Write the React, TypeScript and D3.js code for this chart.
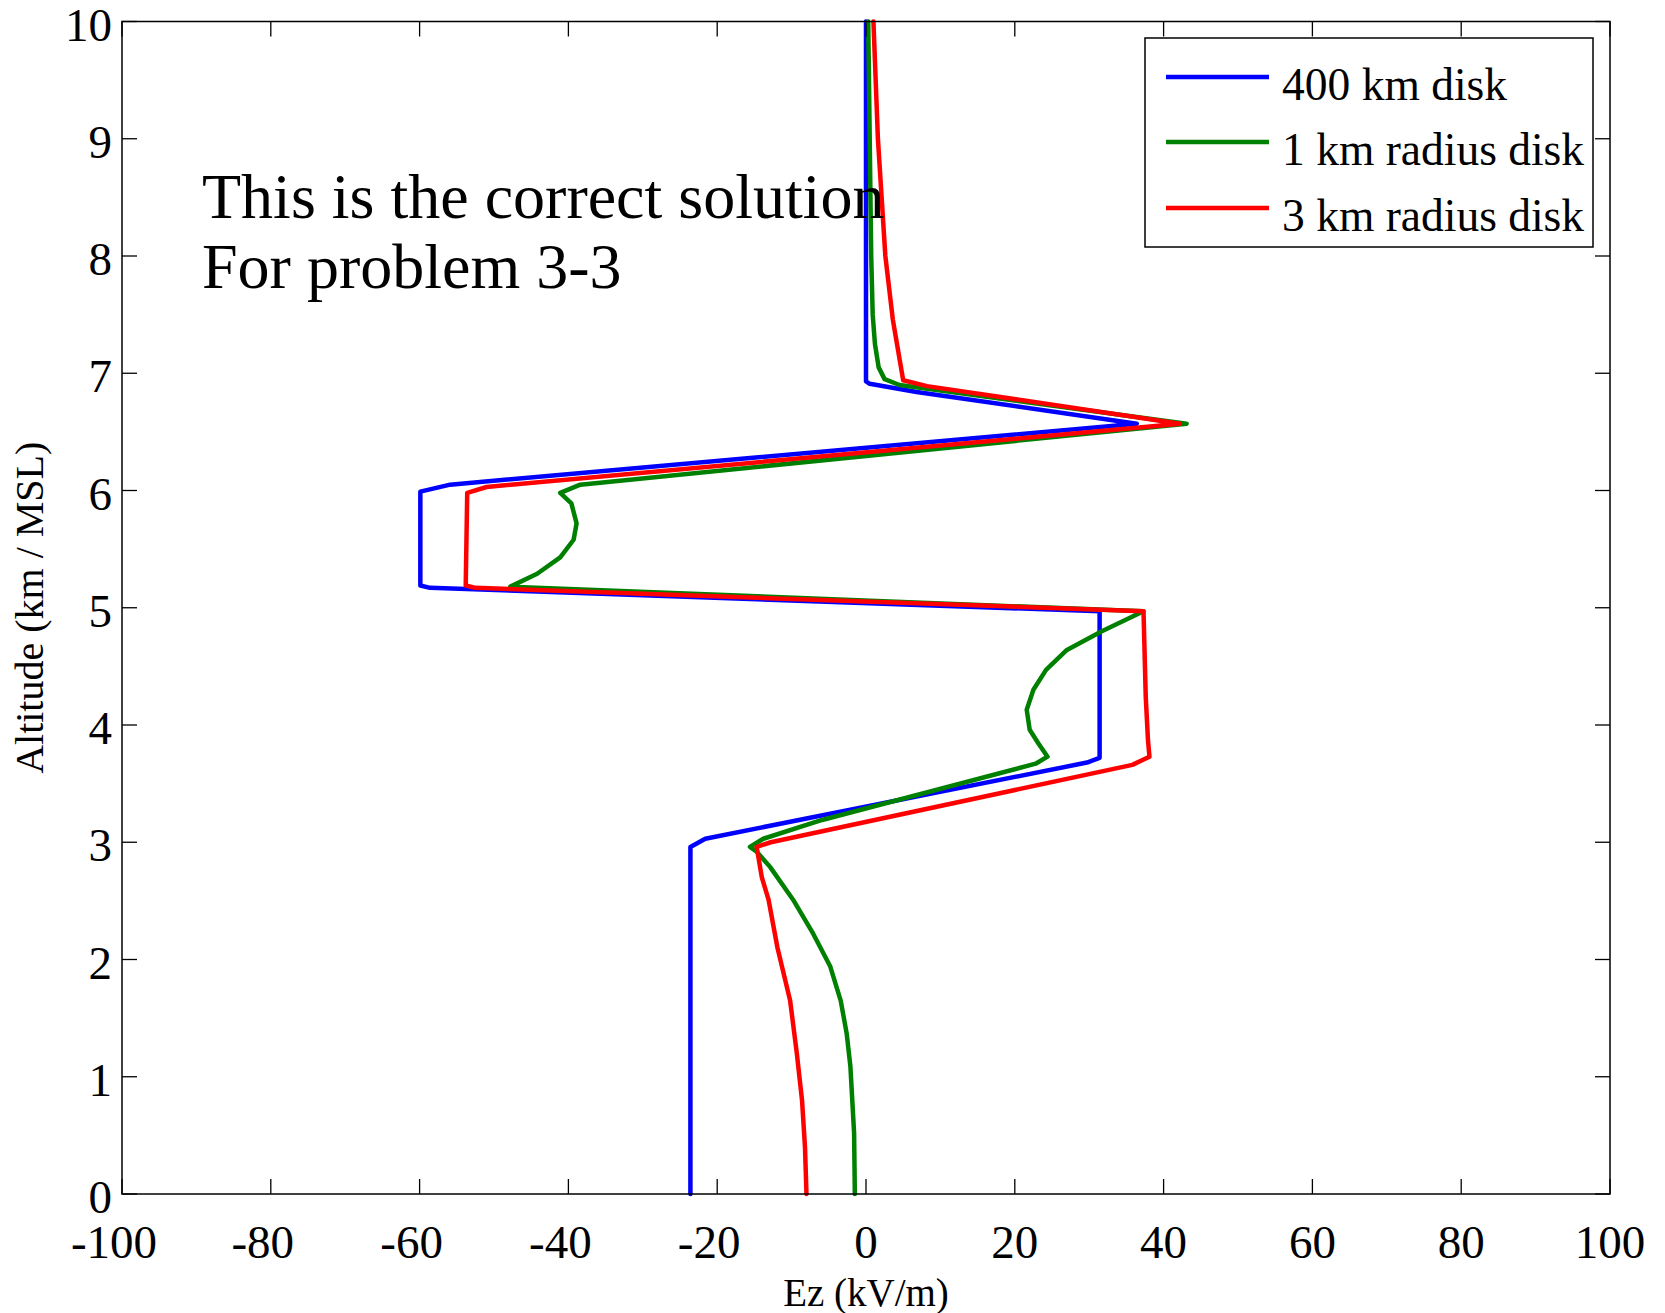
import React from 'react';
import * as d3 from 'd3';

// ---- data ----
const xTicks = [-100, -80, -60, -40, -20, 0, 20, 40, 60, 80, 100];
const yTicks = [0, 1, 2, 3, 4, 5, 6, 7, 8, 9, 10];
const seriesNames = ['400 km disk', '1 km radius disk', '3 km radius disk'];
const seriesColors = ['#0000ff', '#008000', '#ff0000'];

const blueEz = [0.0, 0.0, 0.5, 6.8, 36.4, -55.9, -59.9, -59.9, -58.6, 31.4, 31.4, 29.7, -21.6, -23.6, -23.6];
const blueAlt = [10, 6.93, 6.91, 6.84, 6.57, 6.05, 5.99, 5.19, 5.17, 4.97, 3.72, 3.68, 3.03, 2.96, 0];

const greenEz = [0.3, 0.5, 0.7, 0.9, 1.2, 1.7, 2.5, 4.5, 43.1, -38.4, -41.1, -39.6, -38.9, -39.3, -41.1, -44.2, -47.8,
  37.3, 31.7, 27.0, 24.2, 22.5, 21.6, 22.0, 23.2, 24.4, 22.8, 4.3, -5.9, -13.8, -15.6, -14.7,
  -12.9, -9.8, -7.1, -4.8, -3.4, -2.6, -2.1, -1.6, -1.5];
const greenAlt = [10, 9, 8, 7.5, 7.25, 7.05, 6.95, 6.9, 6.57, 6.05, 5.98, 5.89, 5.72, 5.58, 5.43, 5.29, 5.18,
  4.97, 4.8, 4.64, 4.47, 4.3, 4.13, 3.96, 3.84, 3.73, 3.67, 3.36, 3.19, 3.03, 2.96, 2.92,
  2.79, 2.51, 2.22, 1.94, 1.65, 1.37, 1.09, 0.52, 0];

const redEz = [1.0, 1.6, 2.6, 3.6, 4.3, 5.0, 8.2, 42.2, -51.0, -53.6, -53.8, -52.5, 37.3, 37.6, 37.9, 38.1, 35.8,
  -12.8, -14.7, -14.0, -13.1, -11.9, -10.2, -9.3, -8.6, -8.2, -8.0];
const redAlt = [10, 9, 8, 7.46, 7.2, 6.94, 6.89, 6.57, 6.03, 5.98, 5.19, 5.17, 4.97, 4.24, 3.87, 3.73, 3.66,
  3.0, 2.96, 2.7, 2.51, 2.1, 1.65, 1.2, 0.8, 0.4, 0];

const annotationLines = ['This is the correct solution', 'For problem 3-3'];
const xTitle = 'Ez (kV/m)';
const yTitle = 'Altitude (km / MSL)';

// ---- layout ----
const W = 1665;
const H = 1313;
const L = 122, R = 1610, T = 21.5, B = 1194;
const FONT = '"Liberation Serif", "Times New Roman", serif';

export default function App() {
  const x = d3.scaleLinear().domain([-100, 100]).range([L, R]);
  const y = d3.scaleLinear().domain([0, 10]).range([B, T]);
  const line = d3.line<[number, number]>().x(d => x(d[0])).y(d => y(d[1]));

  const series = [
    { ez: blueEz, alt: blueAlt },
    { ez: greenEz, alt: greenAlt },
    { ez: redEz, alt: redAlt },
  ];
  const tickLen = 15;
  const legendLineY = [77, 142, 208];

  return (
    <svg width={W} height={H} style={{ position: 'absolute', left: 0, top: 0, background: '#fff' }}
      fontFamily={FONT}>
      <rect x={0} y={0} width={W} height={H} fill="#fff" />
      {/* data lines */}
      {series.map((s, i) => (
        <path key={i}
          d={line(s.ez.map((v, j) => [v, s.alt[j]] as [number, number])) || ''}
          fill="none" stroke={seriesColors[i]} strokeWidth={4.5}
          strokeLinejoin="round" strokeLinecap="round" />
      ))}
      {/* frame */}
      <rect x={L} y={T} width={R - L} height={B - T} fill="none" stroke="#000" strokeWidth={1.5} />
      {/* x ticks */}
      {xTicks.map(t => (
        <g key={'x' + t}>
          <line x1={x(t)} x2={x(t)} y1={B} y2={B - tickLen} stroke="#000" strokeWidth={1.3} />
          <line x1={x(t)} x2={x(t)} y1={T} y2={T + tickLen} stroke="#000" strokeWidth={1.3} />
          <text x={x(t) - (t < 0 ? 8 : 0)} y={1258} fontSize={47} textAnchor="middle" fill="#000">{t}</text>
        </g>
      ))}
      {/* y ticks */}
      {yTicks.map(t => (
        <g key={'y' + t}>
          <line x1={L} x2={L + tickLen} y1={y(t)} y2={y(t)} stroke="#000" strokeWidth={1.3} />
          <line x1={R} x2={R - tickLen} y1={y(t)} y2={y(t)} stroke="#000" strokeWidth={1.3} />
          <text x={112} y={y(t) + 19} fontSize={47} textAnchor="end" fill="#000">{t}</text>
        </g>
      ))}
      {/* axis titles */}
      <text x={x(0)} y={1306} fontSize={39} textAnchor="middle" fill="#000">{xTitle}</text>
      <text transform={`translate(43, ${(T + B) / 2}) rotate(-90)`} fontSize={40} textAnchor="middle" fill="#000">{yTitle}</text>
      {/* annotation */}
      {annotationLines.map((s, i) => (
        <text key={s} x={202} y={218 + i * 70} fontSize={64} fill="#000">{s}</text>
      ))}
      {/* legend */}
      <rect x={1145} y={38} width={448} height={209} fill="#fff" stroke="#000" strokeWidth={1.5} />
      {seriesNames.map((n, i) => (
        <g key={n}>
          <line x1={1166} x2={1269} y1={legendLineY[i]} y2={legendLineY[i]} stroke={seriesColors[i]} strokeWidth={4.5} />
          <text x={1282} y={legendLineY[i] + 23} fontSize={45.5} fill="#000">{n}</text>
        </g>
      ))}
    </svg>
  );
}
